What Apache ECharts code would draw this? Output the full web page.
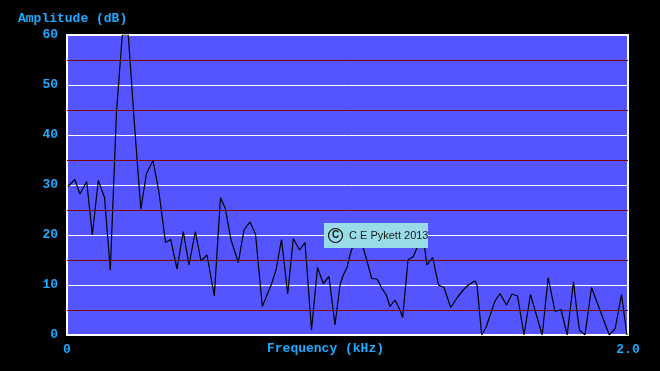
<!DOCTYPE html>
<html><head><meta charset="utf-8">
<script src="https://cdn.jsdelivr.net/npm/echarts@6/dist/echarts.min.js"></script>
<style>html,body{margin:0;padding:0;background:#000;}#c{width:660px;height:371px;}</style>
</head><body><div id="c"></div>
<script>
// Frequency (kHz) of each vertex of the spectrum trace
var freqKHz = [0.0036,0.0275,0.0463,0.0702,0.0902,0.1116,0.1337,0.1544,0.1765,0.1971,0.2185,0.2406,0.2631,0.2834,0.3066,0.3280,0.3512,0.3697,0.3922,0.4146,0.4349,0.4574,0.4777,0.4991,0.5251,0.5472,0.5643,0.5847,0.6107,0.6310,0.6524,0.6720,0.6963,0.7298,0.7451,0.7647,0.7868,0.8068,0.8289,0.8485,0.8717,0.8930,0.9137,0.9340,0.9554,0.9733,0.9850,0.9982,1.0089,1.0374,1.0670,1.0863,1.1052,1.1230,1.1383,1.1515,1.1693,1.1847,1.1968,1.2157,1.2346,1.2467,1.2585,1.2727,1.2834,1.3037,1.3244,1.3440,1.3679,1.3939,1.4128,1.4307,1.4545,1.4617,1.4784,1.4938,1.5116,1.5258,1.5437,1.5668,1.5865,1.6061,1.6292,1.6524,1.6941,1.7155,1.7398,1.7611,1.7832,1.8057,1.8173,1.8271,1.8467,1.8699,1.9333,1.9544,1.9768,1.9964];
// Amplitude (dB)
var amplitudeDB = [29.7,31.1,28.2,30.7,20,30.9,27.5,13,44.7,60,60,42,25.2,32.3,34.9,28.5,18.5,19.1,13.2,20.7,14,20.7,14.8,16,7.8,27.5,25.3,19,14.5,21,22.6,20.2,5.7,10.3,13,19.1,8.2,19.3,17,18.5,1,13.5,10.3,11.7,2,10,12,13.5,16,21,15.3,11.3,11.2,9.3,8,5.7,7,5.3,3.5,15,15.7,17.3,20.5,18.5,14,15.5,10,9.5,5.5,7.7,9,10,10.8,10,0,1.5,4.5,6.8,8.3,6,8.2,7.8,0,8.1,0,11.5,4.7,5.1,0,10.7,5,1,0,9.5,0,1.3,8.1,0];
var yTicks = [0,10,20,30,40,50,60];
var xTickLabels = ['0','2.0'];
var yTitle = 'Amplitude (dB)';
var xTitle = 'Frequency (kHz)';
var credit = 'C E Pykett 2013';

var pts = freqKHz.map(function(f,i){return [f, amplitudeDB[i]];});
var txtColor = '#1eaaff';
var monoFont = '"Liberation Mono", "DejaVu Sans Mono", monospace';

var chart = echarts.init(document.getElementById('c'), null, {renderer:'canvas'});
chart.setOption({
  backgroundColor:'#000',
  animation:false,
  grid:{left:67, right:32, top:35, bottom:36, show:true, backgroundColor:'#5555ff', borderColor:'#ffffff', borderWidth:2},
  xAxis:{type:'value', min:0, max:2, interval:2,
    axisLine:{show:false}, axisTick:{show:false}, splitLine:{show:false},
    axisLabel:{color:txtColor, fontFamily:monoFont, fontWeight:'bold', fontSize:13, margin:8,
      formatter:function(v){return v===0?xTickLabels[0]:(v===2?xTickLabels[1]:'');}}
  },
  yAxis:{type:'value', min:0, max:60, interval:5,
    axisLine:{show:false}, axisTick:{show:false},
    splitLine:{show:true, lineStyle:{color:['#ffffff','#800000'], width:1}},
    axisLabel:{color:txtColor, fontFamily:monoFont, fontWeight:'bold', fontSize:13, margin:9,
      formatter:function(v){return yTicks.indexOf(v)>=0?String(v):'';}}
  },
  graphic:[
    {type:'text', left:18, top:12, style:{text:yTitle, fill:txtColor, font:'bold 13px '+monoFont}},
    {type:'text', left:267, top:342, style:{text:xTitle, fill:txtColor, font:'bold 13px '+monoFont}},
    {type:'group', left:324, top:223, zlevel:1, z:100, children:[
      {type:'rect', zlevel:1, z:100, shape:{x:0,y:0,width:104,height:25}, style:{fill:'#99dbe6'}},
      {type:'circle', zlevel:1, z:101, shape:{cx:11.5,cy:12.5,r:7}, style:{fill:'none', stroke:'#111', lineWidth:1.2}},
      {type:'text', zlevel:1, z:101, x:11.5, y:12.5, style:{text:'C', fill:'#111', font:'bold 10px "Liberation Sans", Arial, sans-serif', align:'center', verticalAlign:'middle'}},
      {type:'text', zlevel:1, z:101, x:25, y:13, style:{text:credit, fill:'#1a1a1a', font:'11px "Liberation Sans", Arial, sans-serif', verticalAlign:'middle'}}
    ]}
  ],
  series:[{type:'line', data:pts, symbol:'none', clip:true,
    lineStyle:{color:'#000', width:1.2}}]
});
</script></body></html>
